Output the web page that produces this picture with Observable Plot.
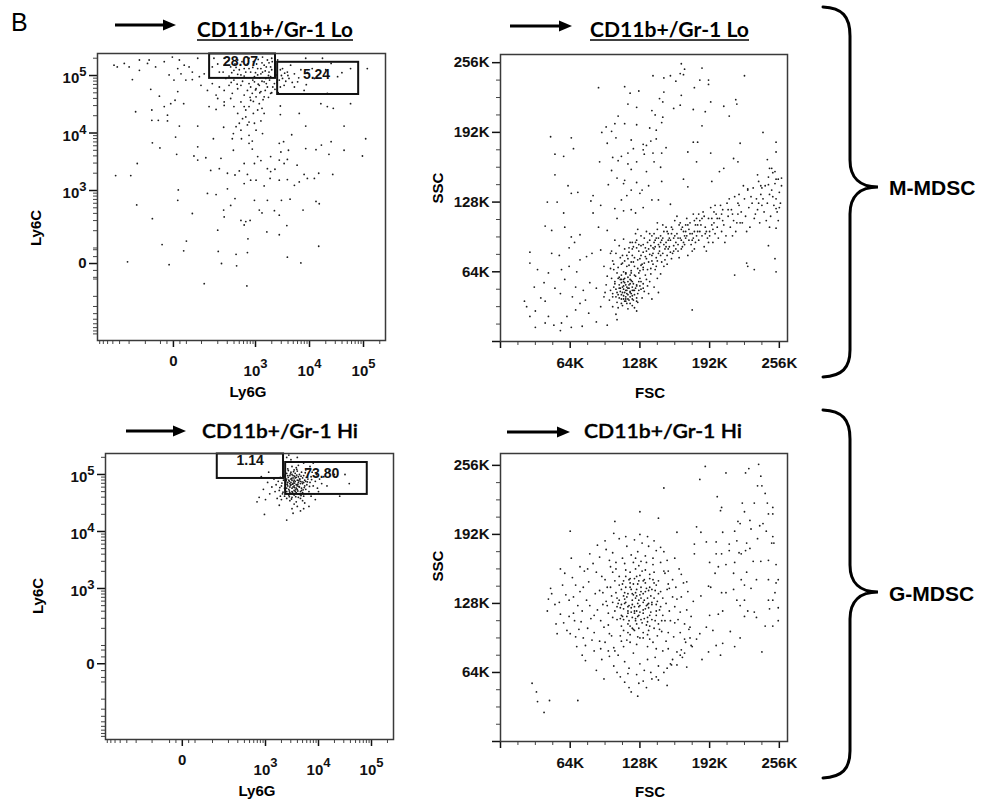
<!DOCTYPE html>
<html><head><meta charset="utf-8">
<script src="https://cdn.jsdelivr.net/npm/d3@7"></script>
<script src="https://cdn.jsdelivr.net/npm/@observablehq/plot@0.6"></script>
<style>
html,body{margin:0;padding:0;background:#fff}
body{width:985px;height:801px;position:relative;overflow:hidden;font-family:"Liberation Sans",Arial,sans-serif}
.panel{position:absolute}
.panel svg{overflow:visible}
#deco{position:absolute;left:0;top:0;z-index:2;pointer-events:none}
</style></head><body>
<div id="p1" class="panel" style="left:0;top:40px;width:400px;height:370px"></div>
<div id="p2" class="panel" style="left:400px;top:40px;width:400px;height:370px"></div>
<div id="p3" class="panel" style="left:0;top:440px;width:400px;height:360px"></div>
<div id="p4" class="panel" style="left:400px;top:440px;width:400px;height:360px"></div>
<svg id="deco" width="985" height="801" font-family="'Liberation Sans', Arial, sans-serif">
  <text x="11" y="31" font-size="25">B</text>
  <g stroke="#000" stroke-width="3">
    <line x1="115" y1="25" x2="165" y2="25"/>
    <line x1="510" y1="26" x2="561" y2="26"/>
    <line x1="126" y1="431" x2="175" y2="431"/>
    <line x1="507" y1="432" x2="559" y2="432"/>
  </g>
  <g fill="#000">
    <path d="M176,25 L163,19.5 L163,30.5 Z"/>
    <path d="M572,26 L559,20.5 L559,31.5 Z"/>
    <path d="M186,431 L173,425.5 L173,436.5 Z"/>
    <path d="M570,432 L557,426.5 L557,437.5 Z"/>
  </g>
  <g font-family="Lato, 'Open Sans', sans-serif" font-size="20" fill="#000">
    <text x="197" y="37" font-weight="bold" textLength="156" lengthAdjust="spacingAndGlyphs">CD11b+/Gr-1 Lo</text>
    <text x="590" y="37" font-weight="bold" textLength="159" lengthAdjust="spacingAndGlyphs">CD11b+/Gr-1 Lo</text>
    <text x="202" y="438" font-weight="600" textLength="156" lengthAdjust="spacingAndGlyphs" stroke="#000" stroke-width="0.35">CD11b+/Gr-1 Hi</text>
    <text x="584" y="438" font-weight="600" textLength="158" lengthAdjust="spacingAndGlyphs" stroke="#000" stroke-width="0.35">CD11b+/Gr-1 Hi</text>
  </g>
  <g stroke="#000" stroke-width="1.6">
    <line x1="197" y1="40" x2="353" y2="40"/>
    <line x1="590" y1="40" x2="749" y2="40"/>
  </g>
  <g fill="none" stroke="#000" stroke-width="3" stroke-linecap="round">
    <path d="M823,7 C842,8 850,16 850,36 L850,160 C850,178 860,187 878,187 C860,187 850,196 850,214 L850,350 C850,368 842,376 823,377"/>
    <path d="M823,410 C842,411 850,419 850,439 L850,565 C850,583 860,592 878,592 C860,592 850,601 850,619 L850,751 C850,769 842,777 823,778"/>
  </g>
  <g font-weight="bold" font-size="21">
    <text x="889" y="187" dominant-baseline="central">M-MDSC</text>
    <text x="889" y="593" dominant-baseline="central">G-MDSC</text>
  </g>
  <g font-weight="bold" font-size="15" text-anchor="middle" dominant-baseline="central">
    <text transform="translate(35,228) rotate(-90)">Ly6C</text>
    <text transform="translate(37,596) rotate(-90)">Ly6C</text>
    <text transform="translate(437,188) rotate(-90)">SSC</text>
    <text transform="translate(437,566) rotate(-90)">SSC</text>
    <text x="248" y="391">Ly6G</text>
    <text x="257" y="790">Ly6G</text>
    <text x="650" y="392">FSC</text>
    <text x="650" y="791">FSC</text>
  </g>
</svg>
<script>
// ---------- Tick values (display positions) and labels ----------
const logTickLabels = ["0", "10^3", "10^4", "10^5"];
const loLy6gTicks = [1.48, 3, 4, 5];
const loLy6cTicks = [1.73, 3, 4, 5];
const hiLy6gTicks = [1.43, 3, 4, 5];
const hiLy6cTicks = [1.68, 3, 4, 5];
const scatterTicks = [0, 64, 128, 192, 256];
const scatterTickLabels = ["", "64K", "128K", "192K", "256K"];
const scatterMinor = [16, 32, 48, 80, 96, 112, 144, 160, 176, 208, 224, 240];
const logMinorMult = [2, 3, 4, 5, 6, 7, 8, 9];

// ---------- Gates ----------
const loGates = [
  {x1: 2.15, x2: 3.37, y1: 4.95, y2: 5.375},
  {x1: 3.41, x2: 4.91, y1: 4.67, y2: 5.23}
];
const loGateLabels = [
  {x: 2.72, y: 5.25, text: "28.07"},
  {x: 4.13, y: 5.02, text: "5.24"}
];
const hiGates = [
  {x1: 2.09, x2: 3.34, y1: 4.93, y2: 5.36},
  {x1: 3.38, x2: 4.92, y1: 4.65, y2: 5.21}
];
const hiGateLabels = [
  {x: 2.71, y: 5.25, text: "1.14"},
  {x: 4.06, y: 5.02, text: "73.80"}
];

// ---------- Events: CD11b+/Gr-1 Lo, Ly6G vs Ly6C (display decades) ----------
const loLy6 = [
[0.41,3.26],[0.69,3.26],[0.81,3.47],[0.63,1.76],[0.80,2.75],[1.09,2.51],[1.27,2.06],[1.40,1.71],[1.57,3.01],[1.56,2.83],[1.67,1.95],[1.72,2.12],[1.83,2.60],[2.05,1.38],[2.30,2.31],[2.31,1.94],[2.37,1.73],[2.64,1.89],[2.65,1.69],[2.84,1.34],[2.85,1.92],[2.86,2.16],[2.79,2.40],[3.21,2.28],[3.44,2.23],[3.59,1.84],[3.84,1.74],[4.17,2.03],[3.58,2.39],[3.44,2.57],[2.42,2.54],[2.41,2.66],[2.54,2.74],[2.62,2.86],[2.11,2.95],[2.27,2.93],[2.73,2.48],[2.82,2.46],[2.90,2.48],[2.98,2.83],[3.07,2.66],[3.12,2.61],[3.22,2.83],[3.35,2.65],[3.48,2.83],[3.64,2.85],[3.88,2.66],[4.12,2.81],[4.18,2.77],[2.48,3.03],[2.79,3.12],[2.91,3.18],[3.01,3.18],[3.16,3.08],[3.27,3.21],[3.44,3.18],[3.59,3.19],[3.72,3.09],[3.81,3.15],[3.90,3.28],[3.96,3.21],[4.09,3.21],[4.17,3.30],[4.43,3.28],[2.17,3.35],[2.33,3.38],[2.48,3.30],[2.62,3.27],[2.70,3.34],[2.79,3.47],[2.85,3.28],[2.98,3.47],[3.10,3.52],[3.22,3.38],[3.28,3.33],[3.36,3.37],[3.44,3.53],[3.53,3.47],[3.59,3.54],[3.77,3.44],[1.54,3.63],[1.86,3.60],[1.93,3.53],[2.08,3.57],[2.36,3.56],[2.59,3.70],[2.94,3.72],[3.04,3.59],[3.28,3.59],[3.47,3.67],[3.61,3.70],[3.93,3.73],[4.12,3.71],[4.36,3.63],[4.64,3.70],[4.98,3.60],[1.09,3.83],[1.23,3.74],[1.52,3.93],[1.93,3.76],[2.22,3.90],[2.57,3.90],[2.74,3.90],[2.88,3.82],[2.94,3.86],[3.13,3.99],[3.44,3.82],[3.52,3.85],[3.67,3.97],[3.93,4.12],[4.22,3.79],[4.40,3.85],[4.64,4.12],[5.04,3.90],[2.41,4.10],[2.59,3.99],[2.64,4.11],[2.70,4.17],[2.76,4.25],[2.82,4.28],[2.88,4.19],[2.96,4.34],[2.98,4.17],[3.10,4.21],[1.93,4.12],[1.59,4.12],[1.37,4.21],[1.20,4.22],[1.08,4.22],[1.08,4.40],[0.78,4.37],[1.37,4.31],[2.14,4.46],[2.27,4.41],[2.42,4.48],[2.54,4.60],[2.60,4.46],[2.73,4.54],[2.82,4.40],[2.88,4.46],[3.01,4.63],[3.07,4.51],[3.12,4.43],[3.46,4.47],[3.46,4.32],[3.81,4.34],[4.21,4.51],[4.33,4.46],[4.44,4.43],[4.76,4.51],[1.67,4.51],[1.43,4.51],[1.31,4.46],[1.22,4.64],[1.06,4.76],[1.51,4.57],[1.56,4.72],[0.72,4.93],[0.85,5.09],[0.38,5.18],[0.44,5.15],[0.57,5.21],[0.66,5.15],[1.03,5.27],[1.15,5.15],[1.31,5.24],[1.40,5.01],[1.49,4.92],[1.59,5.27],[1.68,5.18],[1.77,5.15],[1.83,5.06],[1.93,5.30],[1.96,4.98],[1.71,4.92],[1.83,4.93],[1.99,4.83],[2.11,4.74],[2.20,4.86],[2.27,4.66],[2.33,4.80],[2.42,4.74],[2.51,4.83],[2.57,4.69],[2.67,4.77],[2.73,4.83],[2.79,4.66],[2.85,4.74],[2.91,4.80],[2.94,4.69],[3.01,4.77],[3.07,4.83],[3.10,4.72],[3.16,4.63],[3.22,4.80],[3.28,4.69],[3.35,4.86],[2.98,4.89],[2.88,4.86],[3.16,4.89],[3.19,4.95],[3.28,4.98],[3.38,5.01],[3.44,4.92],[3.53,4.83],[3.62,4.95],[3.72,4.80],[3.78,4.89],[3.90,4.74],[4.09,4.95],[4.33,4.69],[4.52,4.98],[4.76,5.12],[5.07,5.12],[3.50,5.12],[3.59,5.06],[3.72,5.03],[4.40,5.21],[3.65,5.18],[3.93,5.30],[4.24,5.30],[3.41,5.27],[3.28,5.15],[3.22,5.27],[3.13,5.32],[2.88,5.30],[2.67,5.27],[2.23,5.30],[2.42,5.18],[2.54,5.15],[2.33,5.06],[2.20,5.15],[2.60,5.09],[2.79,5.12],[2.91,5.06],[3.04,5.12],[3.10,5.03],[3.16,5.18],[2.73,5.01],[2.67,5.02],[2.79,4.99],[2.51,4.99],[2.45,4.95],[2.60,4.92],[3.04,5.01],[3.13,5.06],[3.25,5.06],[3.31,5.24],[2.42,5.30],[1.00,5.21],[0.85,5.27],[1.46,5.32],[1.56,5.12],[1.62,5.03],[2.05,5.03],[2.91,4.57],[3.04,4.40],[3.16,4.34],[2.79,4.46],[2.67,4.34],[2.73,4.05],[2.88,3.96],[2.85,4.14],[3.01,4.05],[2.42,4.54],[2.30,4.60],
[2.95,4.92],[3.05,4.85],[3.12,4.90],[3.20,4.86],[3.26,4.92],[3.32,4.80],[3.00,4.75],[3.08,4.70],[3.18,4.74],[3.24,4.62],[2.90,4.62],[2.96,4.55],[3.14,4.58],[3.30,4.70],[3.36,4.76],[3.40,4.88],[3.46,4.80],[3.42,4.70],[3.50,4.95],[3.56,4.90],[3.48,5.00],[3.54,5.04],[3.46,5.10],[3.60,5.00],[2.30,5.20],[2.50,5.26],[2.62,5.20],[2.75,5.24],[2.85,5.20],[2.96,5.24],[3.05,5.28],[3.12,5.22],[3.20,5.15],[3.25,5.22],[3.30,5.30],[2.40,5.06],[2.56,5.05],[2.70,5.10],[2.82,5.06],[2.95,5.14],[3.02,5.20],[3.10,5.12],[3.18,5.08],[3.24,5.00],[3.30,5.10],[2.64,5.14],[2.88,5.12],[3.00,5.05],[3.08,4.96],[2.98,4.98],[2.76,4.90],[2.66,4.85],[2.55,4.88],[3.84,5.10],[3.96,5.05],[4.05,5.12],[4.30,5.10],[4.60,5.05],[3.80,4.96],[3.68,4.88],[3.94,4.84]
];

// ---------- Events: CD11b+/Gr-1 Lo, FSC vs SSC (K units) ----------
const loScatterSparse = [
[166,255],[169,250],[185,251],[140,244],[150,242],[156,244],[165,246],[168,245],[224,244],[161,239],[183,240],[191,240],[191,236],[90,233],[114,234],[127,230],[119,228],[178,233],[150,229],[166,226],[146,223],[193,220],[216,222],[217,218],[117,218],[125,215],[149,220],[159,214],[165,217],[177,213],[205,216],[139,212],[188,211],[210,207],[108,207],[142,208],[149,206],[105,200],[114,200],[125,199],[148,201],[185,198],[97,197],[137,196],[93,192],[102,193],[143,194],[46,188],[65,187],[106,187],[120,185],[138,184],[143,186],[241,192],[177,183],[181,183],[220,182],[253,183],[98,182],[131,181],[134,180],[67,177],[50,172],[58,170],[117,173],[122,177],[131,176],[140,173],[148,173],[152,178],[172,174],[193,173],[253,174],[103,169],[111,170],[132,172],[91,165],[108,166],[117,163],[125,165],[141,165],[180,165],[214,168],[218,165],[245,167],[102,157],[120,158],[134,156],[147,160],[201,156],[205,159],[249,159],[252,156],[50,153],[107,150],[114,148],[125,146],[148,147],[168,149],[194,147],[236,153],[258,150],[62,143],[99,144],[113,145],[120,139],[128,136],[136,143],[172,142],[227,140],[239,143],[246,144],[65,136],[71,137],[85,134],[116,134],[130,139],[43,128],[52,128],[83,129],[92,125],[111,130],[139,130],[145,130],[156,126],[58,118],[85,118],[105,122],[113,120],[120,121],[131,123],[253,122],[107,113],[124,118],[41,106],[47,102],[59,105],[73,98],[65,96],[90,105],[98,102],[255,111],[247,105],[253,104],[63,86],[68,91],[47,81],[54,79],[27,82],[27,72],[252,76],[246,88],[253,64],[226,72],[227,69],[233,66],[215,61],[176,29],
[34,66],[44,63],[56,66],[59,57],[63,69],[70,64],[31,50],[40,54],[37,40],[41,37],[22,37],[24,32],[32,28],[27,23],[44,23],[41,17],[32,13],[49,15],[55,10],[56,17],[61,23],[65,13],[69,29],[73,35],[75,14],[81,26],[88,18],[92,32],[98,15],[107,20],[106,25],[76,47],[82,54],[88,49],[95,41],[78,38],[66,41],[55,44],[50,49],[69,50],[79,78],[84,81],[73,75],[92,84],[95,69],[101,81]
];
const loScatterCore = [
[116,47],[114,45],[118,49],[112,50],[120,44],[110,46],[115,52],[119,41],[113,42],[121,50],[117,55],[109,52],[123,47],[111,39],[118,38],[114,58],[106,48],[125,52],[108,43],[120,56],[116,35],[112,33],[122,38],[126,44],[104,50],[110,57],[119,61],[127,55],[103,44],[115,62],[124,60],[107,36],[121,33],[129,48],[131,53],[117,43],[113,48],[119,46],[115,41],[111,54],[122,53],[116,50],[114,37],[109,40],[125,40],[128,58],[132,46],[105,55],[101,47],[120,65],[113,64],[127,63],[134,57],[130,40],[123,31],[117,30],[108,31],[135,51],[112,45],[118,52],[114,54],[121,42],[110,49],[124,49],[116,44],[119,57],[106,41],[126,36],[133,61],[102,58],[111,61],[137,55],[128,51],[115,39],[113,57],[122,47],
[98,60],[100,38],[104,66],[138,62],[141,50],[136,44],[144,58],[97,52],[142,66],[129,70],[118,70],[108,68],[147,62],[139,39],[125,28],[103,32],[140,71],[131,66],[112,72],[150,69],[96,45],[145,45],
[111,43],[117,49],[113,51],[119,45],[115,47],[121,55],[109,49],[123,43],[117,39],[113,55],[119,53],[115,37],[121,47],[111,57],[125,51],[107,45],[117,59],[123,61],[119,35],[127,47],[105,53],[113,39],[121,39],[129,55],[115,63],[109,59],[131,49],[103,41],[125,37],[111,35]
];
const loScatterBand = [
[101,67],[103,74],[106,81],[107,63],[109,88],[111,71],[112,79],[114,85],[116,69],[117,76],[119,91],[105,93],[108,58],[113,94],[118,82],[120,73],[102,83],[110,77],[115,63],[104,71],
[121,79],[122,87],[123,69],[125,93],[126,75],[127,83],[129,97],[130,71],[131,89],[133,78],[134,101],[135,66],[136,85],[137,93],[139,74],[140,81],[124,99],[128,65],[132,95],[138,88],[121,91],[126,103],[129,79],[134,83],[136,73],[139,97],[123,77],[131,68],[137,80],[125,86],
[141,85],[142,93],[143,77],[144,103],[145,89],[147,97],[148,73],[149,107],[151,85],[152,91],[153,79],[154,99],[155,87],[157,105],[158,81],[159,95],[160,111],[141,99],[143,69],[146,83],[148,93],[150,101],[153,71],[156,93],[157,76],[159,88],[144,109],[147,79],[152,105],[155,95],[142,87],[149,81],[154,85],[158,103],[145,95],[151,75],
[161,91],[162,99],[163,83],[165,109],[166,93],[167,87],[168,101],[170,95],[171,113],[172,79],[173,103],[175,89],[176,99],[177,117],[178,85],[179,107],[180,97],[162,115],[164,77],[167,105],[169,89],[171,97],[174,109],[176,83],[178,101],[180,113],[163,95],[166,85],[170,107],[173,93],[177,95],[179,91],
[181,101],[182,93],[183,111],[185,97],[186,119],[187,87],[188,105],[190,95],[191,113],[192,101],[193,123],[195,91],[196,109],[197,99],[198,117],[199,105],[200,95],[184,107],[189,83],[194,113],[197,125],[182,117],[188,99],[191,91],[195,103],
[201,113],[203,101],[204,121],[205,107],[207,97],[208,127],[209,115],[211,105],[212,121],[214,111],[215,133],[216,101],[218,117],[219,125],[220,109],[202,125],[206,91],[210,131],[213,97],[217,109],[219,135],[203,117],
[221,119],[222,109],[224,131],[225,115],[227,139],[228,123],[229,105],[231,127],[232,141],[233,113],[235,131],[236,121],[237,147],[238,109],[239,135],[240,125],[223,143],[226,101],[230,133],[234,117],[237,127],[240,141],
[241,131],[242,119],[243,143],[245,127],[246,151],[247,135],[248,115],[249,139],[250,155],[251,125],[252,145],[253,131],[254,119],[255,149],[256,137],[257,127],[258,143],[244,111],[247,159],[250,133],[253,149],[256,123],
[114,74],[118,86],[122,73],[127,89],[131,82],[135,91],[139,79],[143,95],[146,87],[150,89],[153,101],[156,82],[160,97],[163,89],[166,103],[169,97],[172,107],[176,93],[181,107],[185,113],[189,101],[194,107],[199,113],[204,111],[209,121],[213,117],[218,127],[124,91],[128,76],[133,86],[137,99],[141,91],[145,81],[149,95],[152,87],[157,99],[161,85],[165,95],[168,91],[174,99],[178,111],[183,101],[187,115],[192,97],[196,119],[120,63],[126,67],[132,72],[138,67],[144,74],[116,79],[121,85],[129,88],[134,76],[140,86],[147,91],[154,93],[159,83],[164,107],[170,101]
];

// ---------- Events: CD11b+/Gr-1 Hi, Ly6G vs Ly6C (display decades) ----------
const hiLy6 = [
[3.55,4.85],[3.50,4.90],[3.60,4.80],[3.45,4.88],[3.65,4.92],[3.52,4.78],[3.58,4.95],[3.48,4.82],[3.62,4.86],[3.40,4.92],[3.70,4.84],[3.54,4.72],[3.46,4.98],[3.68,4.76],[3.56,5.02],[3.42,4.80],[3.74,4.90],[3.50,4.70],[3.60,5.06],[3.38,4.86],[3.66,4.70],[3.52,4.94],[3.58,4.76],[3.44,4.74],[3.72,4.98],[3.48,5.04],[3.62,4.66],[3.36,4.96],[3.78,4.82],[3.54,4.64],[3.64,5.00],[3.40,4.70],[3.70,4.68],[3.46,4.84],[3.56,4.88],[3.50,4.76],[3.60,4.90],[3.52,4.84],[3.58,4.82],[3.48,4.92],[3.66,4.84],[3.42,4.98],[3.76,4.74],[3.44,4.64],[3.68,5.04],[3.34,4.90],[3.80,4.92],[3.54,5.08],[3.62,4.60],[3.40,5.02],[3.72,4.62],[3.36,4.76],[3.84,4.86],[3.50,4.60],[3.58,5.12],[3.46,4.68],[3.64,4.78],[3.56,4.70],[3.52,4.98],[3.60,4.74],[3.44,4.90],[3.70,4.94],[3.48,4.86],[3.66,4.88],[3.54,4.80],[3.62,4.96],[3.38,4.82],[3.74,4.80],[3.50,5.00],[3.58,4.68],[3.46,4.78],[3.68,4.72],[3.56,4.94],[3.42,4.86],[3.76,4.88],[3.52,4.66],[3.64,4.92],[3.40,4.76],[3.72,4.86],[3.54,4.90],
[3.30,4.80],[3.28,4.95],[3.32,4.66],[3.86,4.96],[3.90,4.80],[3.82,4.70],[3.88,5.04],[3.94,4.88],[3.26,4.72],[3.34,5.06],[3.98,4.76],[3.80,5.10],[3.24,4.88],[3.30,4.56],[3.70,4.54],[3.58,4.52],[3.46,4.54],[3.62,5.16],[3.50,5.14],[3.86,4.62],[4.02,4.92],[3.20,4.82],[3.96,5.00],[3.40,4.58],[3.76,5.08],[3.66,4.58],[3.54,4.48],[3.42,5.10],[3.18,4.70],[4.06,4.84],[3.92,4.66],[3.36,4.62],[3.84,5.14],[3.60,4.44],[3.50,4.40],[3.74,4.50],[3.28,4.62],[4.00,4.70],[3.12,4.78],[3.16,4.92],[3.08,4.66],[3.04,4.86],[3.22,4.58],[2.96,4.74],[2.88,4.60],[2.84,4.52],[3.00,4.56],[3.26,4.46],[3.82,4.44],[3.94,4.56],[4.10,4.96],[4.16,4.80],[3.72,4.40],[3.66,4.36],[3.52,4.32],[2.98,4.30],[3.72,5.20],[3.56,5.22],[3.48,5.26],[3.40,5.30],[3.90,5.20],[3.06,5.04],[2.92,4.96],[4.20,5.06],[4.30,5.00],[4.50,5.00],[4.58,4.84],[3.60,5.30],[3.44,5.34],[4.40,4.62],[3.40,4.20],
[3.53,4.87],[3.47,4.81],[3.61,4.83],[3.57,4.73],[3.43,4.95],[3.67,4.97],[3.51,4.69],[3.63,4.79],[3.39,4.89],[3.71,4.73],[3.49,4.93],[3.59,4.99],[3.45,4.71],[3.65,4.65],[3.55,4.77],[3.37,4.73],[3.77,4.95],[3.53,5.05],[3.41,4.83],[3.69,4.87],[3.57,4.61],[3.47,5.01],[3.61,4.71],[3.35,4.99],[3.73,4.77],[3.51,4.83],[3.63,4.89],[3.55,4.97],[3.45,4.61],[3.79,4.87],[3.31,4.85],[3.83,4.79],[3.27,4.77],[3.87,4.91],[3.59,5.09],[3.43,5.07],[3.75,5.03],[3.67,4.63],[3.33,4.69],[3.49,4.57]
];

// ---------- Events: CD11b+/Gr-1 Hi, FSC vs SSC (K units) ----------
const hiScatterSparse = [
[29,54],[33,46],[34,37],[40,27],[45,38],[71,38],[150,235],[145,207],[128,213],[105,204],[64,195],[188,255],[183,243],[207,249],[225,249],[228,253],[237,257],[239,246],[236,237],[240,237],[243,230],[199,227],[203,217],[202,214],[222,221],[233,221],[245,221],[250,217],[246,211],[250,211],[224,213],[218,204],[220,202],[229,205],[238,200],[241,202],[244,195],[230,197],[215,195],[204,194],[184,194],[162,194],[180,199],[236,188],[250,190],[251,184],[249,184],[226,184],[217,186],[210,183],[198,185],[189,185],[178,183],[178,174],[198,174],[203,174],[210,177],[219,175],[225,177],[229,179],[221,174],[246,168],[239,167],[253,164],[232,167],[215,166],[207,164],[200,162],[192,166],[197,156],[214,156],[226,157],[235,150],[246,150],[255,150],[253,147],[221,150],[224,145],[230,142],[214,141],[207,138],[203,138],[193,143],[191,144],[184,135],[217,131],[224,131],[220,126],[227,121],[233,120],[246,131],[250,131],[252,138],[255,124],[247,123],[235,115],[243,107],[250,107],[255,112],[224,116],[204,121],[200,118],[192,117],[189,106],[183,100],[180,95],[195,103],[211,102],[220,96],[215,88],[204,91],[198,89],[191,83],[202,80],[240,83],[185,76],[174,106],[175,89],[169,95],[166,85],[162,71],[171,69],[153,52],[143,60],[153,68],[156,72],[165,80]
];
const hiScatterCore = [
[121,131],[127,125],[133,139],[117,119],[139,127],[113,135],[129,143],[124,114],[141,133],[119,147],[135,111],[125,153],[111,141],[143,121],[107,113],[123,103],[137,151],[115,159],[145,137],[103,129],[119,107],[131,101],[147,125],[113,149],[127,117],[135,127],[121,137],[117,121],[129,133],[139,141],[105,121],[143,145],[111,107],[133,159],[126,97],[141,105],[109,153],[127,163],[149,117],[101,143],[115,129],[137,117],[119,157],[131,149],[141,157],[107,133],[125,109],[135,99],[117,101],[145,109],[113,123],[127,131],[123,121],[131,137],[139,113],[109,145],[121,115],[125,141],[147,139],[103,115],[117,109],[135,133],[123,151],[141,147],[111,117],[129,113],[117,137],[127,105],[133,147],[121,127],[105,149],[143,127],[115,143],[125,121],[133,123],[119,151],[137,107],[111,127],[149,133],[123,119],[129,139],[113,113],[137,155],[121,105],[127,149],[117,125],[139,129],[107,125],[135,115],[125,135],[143,117],[115,153],[131,129],[119,143],[109,131],[137,143],[123,125],[131,119],[145,149],[113,103],
[98,126],[152,128],[99,108],[151,112],[96,150],[154,146],[128,96],[122,166],[116,94],[134,166],[144,98],[106,160],[150,158],[100,100],[146,104],[158,134],[94,138],[124,170],[140,164],[110,98],[103,157],[155,121],[119,99],[137,95],[129,167],[114,165],[148,112],[102,135],[153,141],[136,103],
[118,126],[124,133],[131,122],[114,132],[136,124],[120,141],[128,120],[134,142],[116,116],[126,128],[122,136],[132,131],[110,124],[138,135],[124,112],[130,158],[112,146],[142,140],[118,112],[128,154],[106,138],[134,108],[122,146],[146,122],[114,138],[126,116],[132,150],[120,124],[140,150],[108,128],[136,140],[124,138],[118,150],[130,110],[144,130],[112,116],[128,126],[122,104],[138,120],[116,134],[134,126],[126,146],[120,120],[132,114],[114,128],[142,112],[124,160],[110,114],[136,128],[128,136],[131,96],[119,92],[125,90],[135,88],[140,92],[113,88]
];
const hiScatterHalo = [
[43,121],[47,137],[51,109],[54,129],[57,145],[61,103],[63,116],[66,152],[67,134],[69,97],[71,126],[73,139],[74,111],[77,158],[78,89],[79,131],[81,148],[83,114],[85,165],[86,101],[87,137],[89,122],[91,171],[91,93],[93,153],[94,127],[95,106],[97,178],[98,143],[99,84],[99,119],[101,162],[102,98],[103,175],[104,87],[106,166],[108,80],[109,188],[111,93],[112,170],[114,74],[116,181],[118,68],[120,173],[122,82],[123,187],[125,62],[126,176],[128,72],[130,184],[131,56],[133,172],[135,76],[136,181],[138,64],[140,170],[142,78],[143,177],[145,70],[147,166],[148,102],[149,84],[151,156],[152,93],[153,168],[154,86],[155,142],[156,112],[157,71],[158,150],[159,97],[160,125],[161,143],[162,83],[163,113],[164,160],[165,101],[166,134],[167,78],[168,147],[169,109],[170,92],[171,122],[172,139],[173,104],[175,116],[176,88],[177,130],
[58,110],[63,131],[67,119],[72,104],[76,143],[82,126],[84,94],[88,157],[92,112],[96,92],[100,168],[105,84],[97,130],[91,140],[86,117],[80,105],[75,121],[69,145],[64,100],[55,118],[50,127],[46,142],[59,156],[73,162],[82,174],[89,182],[104,193],[115,190],[128,192],[141,186],[150,176],[160,170],[166,155],[171,148],[174,96],[169,82],[158,76],[150,64],[139,58],[127,54],[118,50],[110,60],[104,70],[93,76],[86,84],[76,96],[68,112],[120,46],[126,42],[134,50],[145,57],[114,55],[107,64],[100,79],[92,86],[60,136],[52,100],[44,132],[117,63],[132,66],[143,86],[154,101],[162,132],[70,88],[78,75],[55,160],[65,170],[88,66],[95,58],[160,110],[165,120],[154,158],[147,180],[135,190],[96,186],[80,160],[75,80]
];

// ---------- helpers ----------
const FONT = '"Liberation Sans", Arial, Helvetica, sans-serif';

function logMinorTicks(zero, lo, hi) {
  const out = [];
  [2, 3, 4, 5].forEach(d => {
    [1].concat(logMinorMult).forEach(k => {
      if (k === 1 && d > 2) return;
      out.push(d + Math.log10(k));
    });
  });
  [2].forEach(d => [1].concat(logMinorMult).forEach(k => out.push(2 * zero - (d + Math.log10(k)))));
  [1, 2].forEach(j => { out.push(zero + 0.12 * j); out.push(zero - 0.12 * j); });
  return out.filter(v => v > lo + 0.02 && v < hi - 0.02);
}

function supify(svg) {
  const NS = "http://www.w3.org/2000/svg";
  svg.querySelectorAll("text").forEach(t => {
    const m = /^10\^(\d)$/.exec(t.textContent);
    if (!m) return;
    const g = t.closest("g[aria-label]");
    const isX = g && /x-axis/.test(g.getAttribute("aria-label"));
    t.textContent = "";
    const a = document.createElementNS(NS, "tspan");
    a.textContent = "10";
    a.setAttribute("dy", isX ? "10" : "3");
    const b = document.createElementNS(NS, "tspan");
    b.textContent = m[1];
    b.setAttribute("dy", isX ? "-8" : "-7");
    b.setAttribute("font-size", "13");
    t.appendChild(a); t.appendChild(b);
  });
}

function logPanel(el, cfg) {
  const xMap = new Map(cfg.xTicks.map((v, i) => [v, logTickLabels[i]]));
  const yMap = new Map(cfg.yTicks.map((v, i) => [v, logTickLabels[i]]));
  const svg = Plot.plot({
    width: cfg.width, height: cfg.height,
    marginLeft: cfg.m[0], marginRight: cfg.m[1], marginTop: cfg.m[2], marginBottom: cfg.m[3],
    x: {domain: cfg.xDomain},
    y: {domain: cfg.yDomain},
    style: {fontFamily: FONT, fontSize: "15px", fontWeight: "bold", color: "#111", background: "transparent", overflow: "visible"},
    marks: [
      Plot.axisX(logMinorTicks(cfg.xTicks[0], cfg.xDomain[0], cfg.xDomain[1]), {tickSize: 4, tickFormat: () => "", label: null, stroke: "#444"}),
      Plot.axisY(logMinorTicks(cfg.yTicks[0], cfg.yDomain[0], cfg.yDomain[1]), {tickSize: 4, tickFormat: () => "", label: null, stroke: "#444"}),
      Plot.axisX(cfg.xTicks, {tickSize: 7, tickPadding: 8, tickFormat: d => xMap.get(d), label: null, strokeWidth: 1.5}),
      Plot.axisY(cfg.yTicks, {tickSize: 8, tickPadding: 3, tickFormat: d => yMap.get(d), label: null, strokeWidth: 1.5}),
      Plot.dot(cfg.data, {x: d => d[0], y: d => d[1], r: 0.9, fill: "#1c1c1c"}),
      Plot.rect(cfg.gates, {x1: "x1", x2: "x2", y1: "y1", y2: "y2", fill: "none", stroke: "#111", strokeWidth: 2}),
      Plot.text(cfg.gateLabels, {x: "x", y: "y", text: "text", fontSize: 14, fontWeight: "bold", fill: "#111"}),
      Plot.frame({stroke: "#3a3a3a", strokeWidth: 1.5})
    ]
  });
  supify(svg);
  el.appendChild(svg);
}

function scatterPanel(el, cfg) {
  const lab = new Map(scatterTicks.map((v, i) => [v, scatterTickLabels[i]]));
  const svg = Plot.plot({
    width: cfg.width, height: cfg.height,
    marginLeft: cfg.m[0], marginRight: cfg.m[1], marginTop: cfg.m[2], marginBottom: cfg.m[3],
    x: {domain: cfg.xDomain},
    y: {domain: cfg.yDomain},
    style: {fontFamily: FONT, fontSize: "15px", fontWeight: "bold", color: "#111", background: "transparent", overflow: "visible"},
    marks: [
      Plot.axisX(scatterMinor, {tickSize: 4, tickFormat: () => "", label: null, stroke: "#444"}),
      Plot.axisY(scatterMinor, {tickSize: 4, tickFormat: () => "", label: null, stroke: "#444"}),
      Plot.axisX(scatterTicks, {tickSize: 7, tickPadding: 9, tickFormat: d => lab.get(d), label: null, strokeWidth: 1.5}),
      Plot.axisY(scatterTicks, {tickSize: 8, tickPadding: 3, tickFormat: d => lab.get(d), label: null, strokeWidth: 1.5}),
      ...cfg.sets.map(s => Plot.dot(s, {x: d => d[0], y: d => d[1], r: 0.9, fill: "#1c1c1c"})),
      Plot.frame({stroke: "#3a3a3a", strokeWidth: 1.5})
    ]
  });
  el.appendChild(svg);
}

logPanel(document.getElementById("p1"), {
  width: 400, height: 370, m: [97, 15, 13, 70],
  xDomain: [0.074, 5.407], yDomain: [0.391, 5.383],
  xTicks: loLy6gTicks, yTicks: loLy6cTicks,
  data: loLy6, gates: loGates, gateLabels: loGateLabels
});
scatterPanel(document.getElementById("p2"), {
  width: 400, height: 370, m: [100, 13, 14, 69],
  xDomain: [0, 263.5], yDomain: [0, 263.5],
  sets: [loScatterSparse, loScatterBand, loScatterCore]
});
logPanel(document.getElementById("p3"), {
  width: 400, height: 360, m: [105, 7, 13, 61],
  xDomain: [-0.019, 5.415], yDomain: [0.351, 5.368],
  xTicks: hiLy6gTicks, yTicks: hiLy6cTicks,
  data: hiLy6, gates: hiGates, gateLabels: hiGateLabels
});
scatterPanel(document.getElementById("p4"), {
  width: 400, height: 360, m: [100, 13, 13, 59],
  xDomain: [0, 263.5], yDomain: [0, 267],
  sets: [hiScatterSparse, hiScatterHalo, hiScatterCore]
});
</script>
</body></html>
